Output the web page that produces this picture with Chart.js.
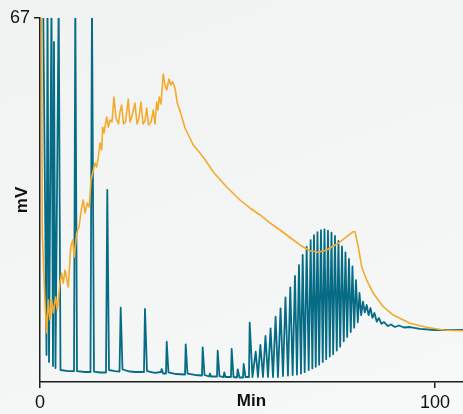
<!DOCTYPE html>
<html>
<head>
<meta charset="utf-8">
<script src="https://cdn.jsdelivr.net/npm/chart.js@4/dist/chart.umd.min.js"></script>
<style>
    html, body { margin: 0; padding: 0; }
    body {
        width: 463px; height: 414px; overflow: hidden;
        background: linear-gradient(160deg, #f1f2f2 0%, #f4f5f5 60%, #f7f8f8 100%);
    }
    #wrap { position: relative; width: 463px; height: 414px; }
</style>
</head>
<body>
<div id="wrap"><canvas id="traceChart"></canvas></div>
<script>
// Orange trace (Min / mV)
const orangeMin = [0.4, 0.58, 1.27, 1.70, 2.10, 2.53, 2.96, 3.37, 3.97, 4.38, 5.06, 5.49, 5.90, 6.33, 7.16, 7.77, 8.28, 8.68, 9.29, 9.87,
    10.56, 10.96, 11.39, 11.97, 12.48, 12.91, 13.34, 13.92, 14.35, 14.76, 15.19, 15.62, 15.87, 16.20, 16.89, 17.29, 17.72, 18.23, 18.73, 19.24,
    19.87, 20.25, 20.68, 21.14, 21.65, 22.35, 22.78, 23.29, 24.05, 24.56, 25.06, 25.57, 26.08, 26.58, 27.01, 27.47, 28.10, 28.68, 29.11, 29.54,
    29.87, 30.20, 30.63, 31.22, 31.65, 32.08, 32.66, 33.09, 33.59, 34.18, 34.76, 35.62, 36.71, 38.81, 41.34, 43.87, 47.27, 50.63, 53.16, 55.70,
    58.23, 60.76, 63.29, 65.82, 68.35, 70.46, 72.58, 75.52, 77.65, 79.32, 79.75, 80.58, 81.44, 82.71, 84.38, 86.91, 89.44, 93.67, 97.90, 102.10, 107.09];
const orangeMv = [68, 27.42, 14.54, 9.02, 15.09, 11.41, 15.09, 12.70, 15.65, 13.25, 18.22, 20.06, 18.22, 20.61, 17.49, 24.85, 26.14, 23.01, 27.42, 28.53,
    32.21, 33.50, 31.11, 32.95, 32.21, 37.18, 38.47, 40.31, 39.57, 41.41, 43.99, 42.70, 46.94, 45.83, 48.78, 46.94, 48.22, 47.86, 52.46, 48.59,
    47.49, 49.70, 50.98, 47.49, 47.86, 52.09, 47.86, 48.96, 51.35, 47.49, 48.59, 51.54, 47.49, 48.04, 50.43, 47.30, 47.86, 50.06, 47.49, 51.54,
    50.06, 52.46, 51.17, 56.69, 54.67, 53.75, 55.77, 54.67, 55.27, 54.11, 51.35, 49.51, 46.75, 43.62, 41.41, 38.65, 35.89, 33.50, 32.03, 30.74,
    29.27, 27.98, 26.60, 25.22, 24.17, 23.87, 24.30, 25.53, 26.74, 27.66, 27.66, 24.90, 21.22, 18.77, 16.33, 13.86, 12.33, 10.80, 10.07, 9.57, 9.44];

// Teal trace (Min / mV)
const tealMin = [0.8, 1.65, 1.9, 2.28, 2.91, 3.29, 3.54, 3.92, 4.73, 5.19, 7.09, 8.61, 8.94, 9.37, 11.39, 12.78, 13.16, 13.67, 15.19, 16.71,
    17.04, 17.47, 18.99, 20.13, 20.43, 20.89, 22.78, 24.05, 26.33, 26.58, 27.09, 29.11, 30.63, 30.81, 31.14, 31.9, 32.08, 32.53, 34.43, 36.71,
    36.89, 37.34, 39.24, 41.01, 41.19, 41.65, 42.78, 43.04, 43.29, 44.81, 44.99, 45.44, 46.46, 46.66, 46.96, 48.35, 48.53, 48.99, 49.87, 50.05,
    50.51, 51.39, 51.57, 52.03, 52.91,
    53.09, 53.80, 54.61, 55.19, 55.80, 56.46, 57.09, 57.72, 58.38, 58.99, 59.65, 60.25, 60.91, 61.52, 62.15, 62.78, 63.37, 63.97, 64.56, 65.06,
    65.57, 66.08, 66.51, 67.01, 67.52, 68.03, 68.53, 68.96, 69.37, 69.82, 70.25, 70.68, 71.14, 71.59, 72.03, 72.46, 72.91, 73.37, 73.80, 74.23,
    74.68, 75.14, 75.57, 76.00, 76.46, 76.91, 77.34, 77.77, 78.23, 78.68, 79.11, 79.54, 80.00, 80.46, 80.89, 81.32, 81.77, 82.23, 82.71, 83.19,
    83.67, 84.18, 84.68, 85.27, 85.82, 86.46, 87.09, 88.10, 88.86, 89.87, 90.89, 92.15, 93.67, 96.2, 100, 107.09];
const tealMv = [70, 4.97, 70, 3.68, 70, 2.94, 62.6, 2.58, 70, 2.21, 2.02, 2.02, 70, 2.0, 1.84, 1.84, 70, 1.93, 1.75, 1.75,
    35.34, 2.21, 2.02, 1.93, 13.68, 2.3, 1.93, 1.84, 1.84, 13.44, 2.02, 1.66, 1.84, 2.39, 1.56, 1.56, 7.42, 1.75, 1.47, 1.38,
    6.94, 1.56, 1.29, 1.2, 6.39, 1.29, 1.01, 1.56, 1.01, 1.01, 5.76, 1.1, 0.92, 1.75, 0.92, 0.92, 6.07, 0.92, 0.83, 2.34,
    0.83, 0.83, 3.31, 0.92, 0.92,
    10.91, 0.92, 5.58, 0.92, 6.81, 0.92, 8.47, 0.92, 9.88, 0.92, 12.02, 0.92, 13.57, 1.1, 15.59, 1.2, 17.43, 1.29, 19.51, 1.38,
    21.53, 1.56, 23.38, 1.8, 24.9, 2.2, 26.13, 2.5, 27.05, 2.8, 27.6, 3.2, 27.97, 3.7, 28.1, 4.2, 27.88, 4.7, 27.51, 5.1,
    26.87, 5.8, 25.95, 6.5, 24.94, 7.5, 23.84, 8.3, 22.64, 9.2, 21.26, 10.0, 18.77, 11.0, 16.38, 12.3, 14.78, 12.8, 14.17, 12.3,
    13.62, 11.8, 12.7, 11.1, 11.78, 10.7, 11.04, 10.3, 10.58, 10.12, 10.4, 10.03, 10.12, 9.76, 9.57, 9.57];

// Axis ticks
const xTicks = [0, 100];
const yTicks = [67];

const X_MAX = 107.1;
const Y_MAX = 67;

const toPoints = (xs, ys) => xs.map((x, i) => ({ x: x, y: ys[i] }));

const axisColor = '#1d1d1d';
const fontFamily = '"Liberation Sans", Arial, sans-serif';

const ctx = document.getElementById('traceChart').getContext('2d');
new Chart(ctx, {
    type: 'line',
    data: {
        datasets: [{
            label: 'Orange',
            data: toPoints(orangeMin, orangeMv),
            borderColor: '#f4ab2c',
            borderWidth: 1.6,
            borderJoinStyle: 'round',
            pointRadius: 0,
            tension: 0,
            clip: 0
        }, {
            label: 'Teal',
            data: toPoints(tealMin, tealMv),
            borderColor: '#066c86',
            borderWidth: 1.8,
            borderJoinStyle: 'round',
            pointRadius: 0,
            tension: 0,
            clip: 0
        }]
    },
    options: {
        responsive: true,
        maintainAspectRatio: false,
        animation: false,
        layout: { padding: { top: 18, left: 0, right: 0, bottom: 0 } },
        plugins: {
            legend: { display: false },
            tooltip: { enabled: false }
        },
        scales: {
            x: {
                type: 'linear',
                min: 0,
                max: X_MAX,
                afterBuildTicks: axis => { axis.ticks = xTicks.map(v => ({ value: v })); },
                afterFit: scale => { scale.height = 32; },
                border: { display: true, color: axisColor, width: 1.5 },
                grid: { drawOnChartArea: false, drawTicks: true, tickLength: 6, color: axisColor, lineWidth: 1.5 },
                ticks: {
                    color: '#111',
                    font: { family: fontFamily, size: 18 },
                    padding: 4,
                    maxRotation: 0
                },
                title: {
                    display: true,
                    text: 'Min',
                    color: '#111',
                    font: { family: fontFamily, size: 17, weight: 'bold' },
                    padding: { top: 0, bottom: 2 }
                }
            },
            y: {
                type: 'linear',
                min: 0,
                max: Y_MAX,
                afterBuildTicks: axis => { axis.ticks = yTicks.map(v => ({ value: v })); },
                afterFit: scale => { scale.width = 40; },
                border: { display: true, color: axisColor, width: 1.5 },
                grid: { drawOnChartArea: false, drawTicks: true, tickLength: 6, color: axisColor, lineWidth: 1.5 },
                ticks: {
                    color: '#111',
                    font: { family: fontFamily, size: 18 },
                    padding: 4
                },
                title: {
                    display: true,
                    text: 'mV',
                    color: '#111',
                    font: { family: fontFamily, size: 17, weight: 'bold' },
                    padding: { top: 12, bottom: 0 }
                }
            }
        }
    }
});
</script>
</body>
</html>
